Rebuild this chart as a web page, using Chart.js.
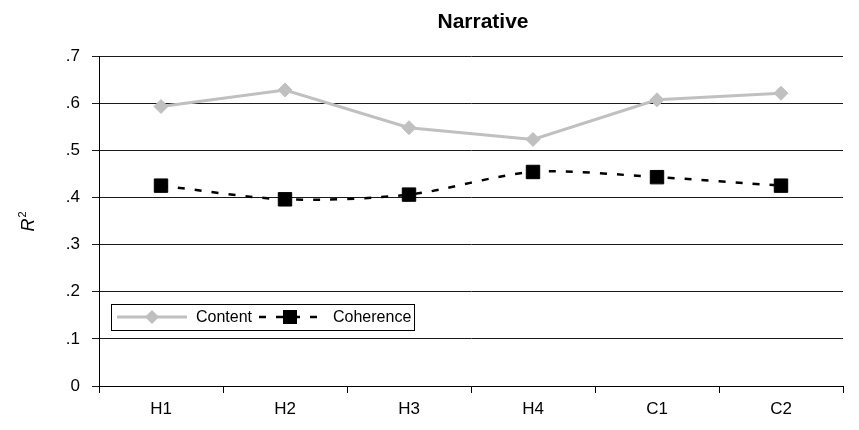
<!DOCTYPE html>
<html>
<head>
<meta charset="utf-8">
<title>Narrative</title>
<script src="https://cdn.jsdelivr.net/npm/chart.js@4"></script>
<style>
  html, body { margin: 0; padding: 0; background: #fff; overflow: hidden; }
  #wrap { position: relative; width: 859px; height: 430px; }
</style>
</head>
<body>
<div id="wrap"><canvas id="chart-narrative"></canvas></div>
<script>
// data
const categories = ["H1", "H2", "H3", "H4", "C1", "C2"];
const contentValues = [0.593, 0.628, 0.548, 0.523, 0.607, 0.621];
const coherenceValues = [0.425, 0.396, 0.406, 0.454, 0.443, 0.425];
const yTicks = [0, 0.1, 0.2, 0.3, 0.4, 0.5, 0.6, 0.7];

const FONT = "'Liberation Sans', Arial, sans-serif";
const GREY = "#c0c0c0";
const DASH = [7, 10];

/** y tick text: ".7" style, "0" for zero */
function fmtTick(v) {
  if (Math.abs(v) < 1e-9) return "0";
  return v.toFixed(1).replace(/^0/, "");
}

/** title, R² axis label and boxed legend */
const decorations = {
  id: "decorations",
  afterDraw(chart) {
    const ctx = chart.ctx;
    ctx.save();

    // title
    ctx.fillStyle = "#000";
    ctx.font = `bold 21px ${FONT}`;
    ctx.textAlign = "center";
    ctx.textBaseline = "middle";
    ctx.fillText("Narrative", 483, 22);

    // y label
    ctx.save();
    ctx.translate(29, 222);
    ctx.rotate(-Math.PI / 2);
    ctx.font = `italic 18px ${FONT}`;
    const wR = ctx.measureText("R").width;
    ctx.font = `11px ${FONT}`;
    const w2 = ctx.measureText("2").width;
    const x0 = -(wR + w2) / 2;
    ctx.textAlign = "left";
    ctx.textBaseline = "middle";
    ctx.font = `italic 18px ${FONT}`;
    ctx.fillText("R", x0, 0);
    ctx.font = `11px ${FONT}`;
    ctx.fillText("2", x0 + wR + 1, -6);
    ctx.restore();

    // legend box
    const bx = 111, by = 304, bw = 303, bh = 26;
    const cy = by + bh / 2;
    ctx.fillStyle = "#fff";
    ctx.fillRect(bx, by, bw, bh);
    ctx.strokeStyle = "#000";
    ctx.lineWidth = 1;
    ctx.strokeRect(bx + 0.5, by + 0.5, bw, bh);

    // Content item
    ctx.strokeStyle = GREY;
    ctx.lineWidth = 3;
    ctx.beginPath();
    ctx.moveTo(117, cy);
    ctx.lineTo(187, cy);
    ctx.stroke();
    ctx.fillStyle = GREY;
    ctx.beginPath();
    ctx.moveTo(152 - 7, cy);
    ctx.lineTo(152, cy - 7);
    ctx.lineTo(152 + 7, cy);
    ctx.lineTo(152, cy + 7);
    ctx.closePath();
    ctx.fill();

    // Coherence item
    ctx.strokeStyle = "#000";
    ctx.lineWidth = 2.5;
    ctx.setLineDash(DASH);
    ctx.beginPath();
    ctx.moveTo(259, cy);
    ctx.lineTo(326, cy);
    ctx.stroke();
    ctx.setLineDash([]);
    ctx.fillStyle = "#000";
    ctx.fillRect(290 - 7, cy - 7, 14, 14);

    ctx.fillStyle = "#000";
    ctx.font = `16px ${FONT}`;
    ctx.textAlign = "left";
    ctx.textBaseline = "middle";
    ctx.fillText("Content", 196, cy + 1);
    ctx.fillText("Coherence", 333, cy + 1);

    ctx.restore();
  },
};

const canvas = document.getElementById("chart-narrative");
const ctx = canvas.getContext("2d");
new Chart(ctx, {
  type: "line",
  data: {
    labels: categories,
    datasets: [
      {
        label: "Content",
        data: contentValues,
        borderColor: GREY,
        backgroundColor: GREY,
        borderWidth: 3,
        tension: 0,
        pointStyle: "rectRot",
        pointRadius: 7,
        pointBorderWidth: 1,
        pointBackgroundColor: GREY,
        pointBorderColor: GREY,
      },
      {
        label: "Coherence",
        data: coherenceValues,
        borderColor: "#000",
        backgroundColor: "#000",
        borderWidth: 2.5,
        borderDash: DASH,
        tension: 0.3,
        pointStyle: "rect",
        pointRadius: 9.5,
        pointBorderWidth: 1,
        pointBackgroundColor: "#000",
        pointBorderColor: "#000",
      },
    ],
  },
  options: {
    responsive: true,
    maintainAspectRatio: false,
    animation: false,
    layout: {
      padding: { top: 56, right: 16, bottom: 0, left: 0 },
    },
    scales: {
      x: {
        offset: true,
        grid: {
          offset: true,
          drawOnChartArea: false,
          color: "#000",
          tickLength: 7,
        },
        border: { color: "#000", width: 1 },
        ticks: {
          color: "#000",
          font: { family: FONT, size: 17 },
          padding: 6,
          maxRotation: 0,
        },
        afterFit: (scale) => {
          scale.height = 44;
        },
      },
      y: {
        min: 0,
        max: 0.7,
        afterBuildTicks: (scale) => {
          scale.ticks = yTicks.map((v) => ({ value: v }));
        },
        grid: {
          color: "#1a1a1a",
          lineWidth: 1,
          tickLength: 7,
        },
        border: { color: "#000", width: 1 },
        ticks: {
          color: "#000",
          font: { family: FONT, size: 17 },
          padding: 12,
          callback: (v) => fmtTick(v),
        },
        afterFit: (scale) => {
          scale.width = 99;
        },
      },
    },
    plugins: {
      legend: { display: false },
      title: { display: false },
      tooltip: { enabled: false },
    },
  },
  plugins: [decorations],
});
</script>
</body>
</html>
